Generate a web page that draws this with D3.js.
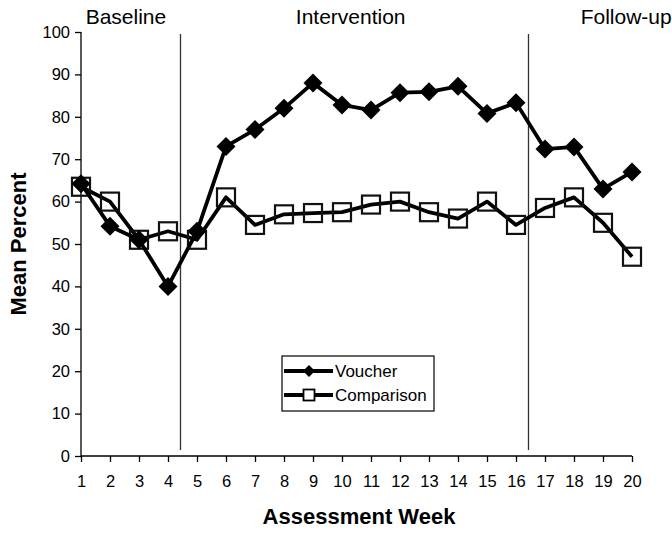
<!DOCTYPE html>
<html>
<head>
<meta charset="utf-8">
<script src="https://cdn.jsdelivr.net/npm/d3@7"></script>
<style>
  body { margin: 0; background: #fff; }
  svg { font-family: "Liberation Sans", Arial, sans-serif; }
</style>
</head>
<body>
<svg id="chart" width="672" height="534"></svg>
<script>
// data
var weeks = d3.range(1, 21);
var voucher = [64.2, 54.2, 51, 40, 53, 73, 77, 82, 88, 82.8, 81.6, 85.7, 85.9, 87.2, 80.8, 83.3, 72.4, 72.9, 63, 67];
var comparison = [63.5, 60, 51, 53, 51, 61, 54.5, 57, 57.3, 57.5, 59.3, 60, 57.5, 56, 60, 54.5, 58.5, 61, 55, 47];
var yTicks = [0, 10, 20, 30, 40, 50, 60, 70, 80, 90, 100];
var phaseBreaks = [4.5, 16.5];
var phases = [
    {label: "Baseline", at: 2.55},
    {label: "Intervention", at: 10.3},
    {label: "Follow-up", at: 19.8}
];

var svg = d3.select("#chart");

var x = d3.scaleLinear().domain([1, 20]).range([81, 632]);
var y = d3.scaleLinear().domain([0, 100]).range([456, 32]);

// axes
var yAxis = svg.append("g")
    .attr("transform", "translate(81,0)")
    .call(d3.axisLeft(y).tickValues(yTicks).tickSize(6).tickPadding(5));

var xAxis = svg.append("g")
    .attr("transform", "translate(0,456)")
    .call(d3.axisBottom(x).tickValues(weeks).tickSize(6).tickPadding(13).tickSizeOuter(0));

[yAxis, xAxis].forEach(function (ax) {
    ax.select(".domain").attr("stroke", "#000").attr("stroke-width", 1.3);
    ax.selectAll(".tick line").attr("stroke", "#000").attr("stroke-width", 1.3);
    ax.selectAll(".tick text")
        .attr("fill", "#000")
        .style("font-size", "16.5px")
        .style("font-family", "Liberation Sans, Arial, sans-serif");
});
yAxis.select(".domain").attr("d", "M0,456V32");
xAxis.select(".domain").attr("d", "M81,0H632");

// phase lines
svg.append("g").selectAll("line")
    .data(phaseBreaks)
    .enter()
    .append("line")
    .attr("x1", function (d) { return x(d) - 2; })
    .attr("x2", function (d) { return x(d) - 2; })
    .attr("y1", 34)
    .attr("y2", 450)
    .attr("stroke", "#333")
    .attr("stroke-width", 1.3);

svg.append("g").selectAll("text")
    .data(phases)
    .enter()
    .append("text")
    .attr("x", function (d) { return x(d.at); })
    .attr("y", 24)
    .attr("text-anchor", "middle")
    .style("font-size", "21px")
    .text(function (d) { return d.label; });

var line = d3.line()
    .x(function (d, i) { return x(weeks[i]); })
    .y(function (d) { return y(d); });

// comparison series
svg.append("path")
    .datum(comparison)
    .attr("d", line)
    .attr("fill", "none")
    .attr("stroke", "#000")
    .attr("stroke-width", 3.8)
    .attr("stroke-linejoin", "round");

svg.append("g").selectAll("rect")
    .data(comparison)
    .enter()
    .append("rect")
    .attr("x", function (d, i) { return x(weeks[i]) - 9; })
    .attr("y", function (d) { return y(d) - 9; })
    .attr("width", 18)
    .attr("height", 18)
    .attr("fill", "none")
    .attr("stroke", "#111")
    .attr("stroke-width", 2.2);

// voucher series
svg.append("path")
    .datum(voucher)
    .attr("d", line)
    .attr("fill", "none")
    .attr("stroke", "#000")
    .attr("stroke-width", 3.8)
    .attr("stroke-linejoin", "round");

var diamond = "M0,-9.5L9.5,0L0,9.5L-9.5,0Z";
svg.append("g").selectAll("path")
    .data(voucher)
    .enter()
    .append("path")
    .attr("transform", function (d, i) { return "translate(" + x(weeks[i]) + "," + y(d) + ")"; })
    .attr("d", diamond)
    .attr("fill", "#000");

// legend
var legend = svg.append("g").attr("transform", "translate(282,356)");
legend.append("rect")
    .attr("width", 152)
    .attr("height", 55)
    .attr("fill", "#fff")
    .attr("stroke", "#000")
    .attr("stroke-width", 1.2);

var legendItems = [
    {name: "Voucher", shape: "diamond"},
    {name: "Comparison", shape: "square"}
];
var li = legend.selectAll(".item")
    .data(legendItems)
    .enter()
    .append("g")
    .attr("class", "item")
    .attr("transform", function (d, i) { return "translate(0," + (15 + i * 24) + ")"; });

li.append("line")
    .attr("x1", 2).attr("x2", 51)
    .attr("stroke", "#000").attr("stroke-width", 3.8);
li.filter(function (d) { return d.shape === "diamond"; })
    .append("path")
    .attr("transform", "translate(27,0)")
    .attr("d", "M0,-6L6,0L0,6L-6,0Z")
    .attr("fill", "#000");
li.filter(function (d) { return d.shape === "square"; })
    .append("rect")
    .attr("x", 21.5).attr("y", -5.5)
    .attr("width", 11).attr("height", 11)
    .attr("fill", "#fff")
    .attr("stroke", "#000").attr("stroke-width", 1.8);
li.append("text")
    .attr("x", 53)
    .attr("dy", "0.36em")
    .style("font-size", "17px")
    .text(function (d) { return d.name; });

// axis titles
svg.append("text")
    .attr("transform", "translate(26,244) rotate(-90)")
    .attr("text-anchor", "middle")
    .style("font-size", "22px")
    .style("font-weight", "bold")
    .text("Mean Percent");

svg.append("text")
    .attr("x", 359)
    .attr("y", 524)
    .attr("text-anchor", "middle")
    .style("font-size", "22px")
    .style("font-weight", "bold")
    .text("Assessment Week");
</script>
</body>
</html>
